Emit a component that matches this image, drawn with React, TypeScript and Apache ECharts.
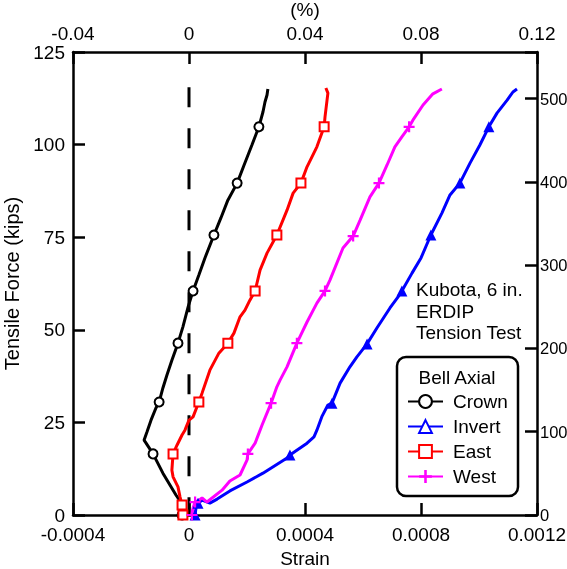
import React, { useEffect, useRef } from 'react';
import * as echarts from 'echarts';

// Strain values in microstrain, force in kips
const crownStrain = [-24, -21, -31, -45, -90, -124, -148, -155, -145, -131, -114, -103, -90, -76, -59, -38, -21, -3, 14, 34, 55, 86, 110, 134, 166, 190, 217, 241, 255, 262, 269, 272];
const crownForce = [0, 1.9, 3.8, 5.4, 11.3, 16.5, 19.4, 20.2, 22.4, 25.6, 28.9, 30.5, 34.3, 37.8, 41.8, 46.4, 50.8, 56.2, 60.5, 64.8, 69.4, 75.6, 80.2, 85.0, 89.6, 94.5, 99.9, 104.8, 108.8, 111.5, 113.4, 115.0];
const crownMarks = [0, 5, 11, 15, 18, 21, 24, 27];

const invertStrain = [21, 24, 31, 45, 72, 97, 141, 200, 255, 338, 348, 407, 431, 441, 459, 479, 493, 521, 555, 579, 614, 648, 693, 721, 734, 769, 800, 834, 872, 900, 934, 969, 1003, 1034, 1062, 1097, 1117, 1131];
const invertForce = [0, 1.9, 3.2, 4.0, 3.2, 4.3, 6.5, 8.9, 11.3, 15.4, 16.2, 19.4, 21.1, 22.9, 26.7, 29.7, 30.2, 35.6, 40.0, 42.7, 46.2, 50.5, 55.9, 58.9, 60.5, 65.3, 69.4, 75.6, 81.5, 86.4, 89.6, 95.0, 99.9, 104.8, 108.5, 112.0, 114.2, 115.0];
const invertMarks = [0, 2, 10, 16, 20, 24, 27, 30, 33];

const eastStrain = [-21, -24, -31, -38, -55, -59, -55, -41, -24, -14, 0, 14, 34, 45, 72, 103, 134, 155, 176, 193, 210, 228, 245, 269, 303, 338, 359, 386, 407, 441, 466, 469, 476, 479, 472];
const eastForce = [0, 2.7, 4.9, 7.6, 10.3, 12.1, 16.5, 18.9, 21.6, 22.9, 25.6, 26.5, 30.5, 32.9, 39.1, 43.7, 46.4, 49.1, 53.5, 55.3, 58.0, 60.5, 66.1, 70.7, 75.6, 82.3, 86.9, 89.6, 94.0, 99.4, 104.8, 107.5, 112.0, 113.9, 115.3];
const eastMarks = [0, 1, 6, 12, 16, 21, 24, 27, 30];

const westStrain = [10, 14, 21, 34, 45, 62, 114, 141, 176, 200, 203, 228, 252, 283, 303, 314, 338, 372, 407, 441, 469, 486, 531, 566, 590, 624, 655, 683, 710, 734, 759, 772, 807, 841, 872];
const westForce = [0, 1.9, 3.5, 4.0, 4.6, 3.5, 6.7, 9.2, 10.8, 14.8, 16.5, 19.4, 24.3, 30.2, 34.6, 36.4, 40.0, 46.4, 52.1, 57.2, 60.5, 63.4, 72.1, 75.3, 79.6, 85.9, 89.6, 94.5, 99.4, 102.1, 104.8, 106.6, 110.7, 113.7, 115.0];
const westMarks = [0, 2, 10, 13, 17, 20, 23, 26, 30];

const zeroLineForce = [115.5, 0];

const seriesNames = ['Crown', 'Invert', 'East', 'West'];
const noteText = 'Kubota, 6 in.\nERDIP\nTension Test';
const legendTitle = 'Bell Axial';
const KIPS_TO_KN = 4.44822;

const FONT = "'Liberation Sans', Arial, sans-serif";
const PLUS = 'path://M4,0H6V4H10V6H6V10H4V6H0V4H4Z';

function build(strain: number[], force: number[], marks: number[], sym: string, size: number) {
  return strain.map((s, i) => {
    const v = [s * 1e-6, force[i]];
    if (marks.includes(i)) return { value: v, symbol: sym, symbolSize: size };
    return { value: v, symbol: 'none' };
  });
}

export default function App() {
  const ref = useRef<HTMLDivElement>(null);
  useEffect(() => {
    if (!ref.current) return;
    const chart = echarts.init(ref.current, undefined, { renderer: 'svg' });
    const axisLine = { show: true, onZero: false, lineStyle: { color: '#000', width: 2.5 } };
    const axisTick = { show: true, inside: true, length: 12, lineStyle: { color: '#000', width: 2.5 } };
    const lbl = { color: '#000', fontSize: 19, fontFamily: FONT };
    const lineSeries = (name: string, color: string, legendSym: string, data: any[], bw: number) => ({
      name,
      type: 'line',
      data,
      symbol: legendSym,
      showSymbol: true,
      showAllSymbol: true,
      color,
      lineStyle: { color, width: 3 },
      itemStyle: { color, borderWidth: bw },
      silent: true,
      z: 3,
    });
    chart.setOption({
      animation: false,
      grid: { left: 73, right: 30, top: 52, bottom: 54, containLabel: false, outerBoundsMode: 'none' },
      xAxis: [
        {
          type: 'value',
          position: 'bottom',
          min: -0.0004,
          max: 0.0012,
          interval: 0.0004,
          name: 'Strain',
          nameLocation: 'middle',
          nameGap: 28,
          nameTextStyle: { ...lbl },
          axisLine,
          axisTick,
          splitLine: { show: false },
          axisLabel: {
            ...lbl,
            margin: 10,
            formatter: (v: number) => {
              const r = Math.round(v * 1e4) / 1e4;
              return r === 0 ? '0' : String(r);
            },
          },
        },
        {
          type: 'value',
          position: 'top',
          min: -0.04,
          max: 0.12,
          interval: 0.04,
          name: '(%)',
          nameLocation: 'middle',
          nameGap: 28,
          nameTextStyle: { ...lbl },
          axisLine,
          axisTick,
          splitLine: { show: false },
          axisLabel: {
            ...lbl,
            margin: 9,
            formatter: (v: number) => {
              const r = Math.round(v * 100) / 100;
              return r === 0 ? '0' : String(r);
            },
          },
        },
      ],
      yAxis: [
        {
          type: 'value',
          position: 'left',
          min: 0,
          max: 125,
          interval: 25,
          name: 'Tensile Force (kips)',
          nameLocation: 'middle',
          nameGap: 45,
          nameRotate: 90,
          nameTextStyle: { ...lbl, fontSize: 20 },
          axisLine,
          axisTick,
          splitLine: { show: false },
          axisLabel: { ...lbl, margin: 8 },
        },
        {
          type: 'value',
          position: 'right',
          min: 0,
          max: 125 * KIPS_TO_KN,
          interval: 100,
          axisLine,
          axisTick,
          splitLine: { show: false },
          axisLabel: {
            ...lbl,
            fontSize: 16.5,
            margin: 3,
            formatter: (v: number) => (Math.abs(v - Math.round(v / 100) * 100) < 1e-6 ? String(Math.round(v)) : ''),
          },
        },
      ],
      legend: {
        data: seriesNames,
        orient: 'vertical',
        left: 402,
        top: 387,
        itemWidth: 35,
        itemHeight: 16,
        itemGap: 6,
        selectedMode: false,
        itemStyle: { borderWidth: 1.6 },
        textStyle: { color: '#000', fontSize: 19, fontFamily: FONT, padding: [0, 0, 0, 5] },
      },
      graphic: [
        {
          type: 'rect',
          shape: { x: 397, y: 357, width: 121, height: 139, r: 9 },
          style: { fill: '#fff', stroke: '#000', lineWidth: 2.5 },
          z: 1,
        },
        {
          type: 'text',
          x: 457,
          y: 377,
          style: { text: legendTitle, fill: '#000', font: `19px ${FONT}`, textAlign: 'center', textVerticalAlign: 'middle' },
          z: 5,
        },
        {
          type: 'text',
          x: 416,
          y: 279,
          style: { text: noteText, fill: '#000', font: `19px ${FONT}`, lineHeight: 21.5, textAlign: 'left', textVerticalAlign: 'top' },
          z: 5,
        },
      ],
      series: [
        {
          name: 'zero',
          type: 'line',
          data: zeroLineForce.map((f) => [0, f]),
          symbol: 'none',
          lineStyle: { color: '#000', width: 3, type: [20, 21] },
          silent: true,
          z: 2,
        },
        lineSeries('Crown', '#000000', 'emptyCircle', build(crownStrain, crownForce, crownMarks, 'emptyCircle', 9), 3),
        lineSeries('Invert', '#0000ff', 'emptyTriangle', build(invertStrain, invertForce, invertMarks, 'triangle', 11), 0),
        lineSeries('East', '#ff0000', 'emptyRect', build(eastStrain, eastForce, eastMarks, 'emptyRect', 9), 3),
        lineSeries('West', '#ff00ff', PLUS, build(westStrain, westForce, westMarks, PLUS, 11), 0),
      ],
    });
    return () => chart.dispose();
  }, []);
  return <div ref={ref} style={{ position: 'fixed', left: 0, top: 0, width: 567, height: 569 }} />;
}
